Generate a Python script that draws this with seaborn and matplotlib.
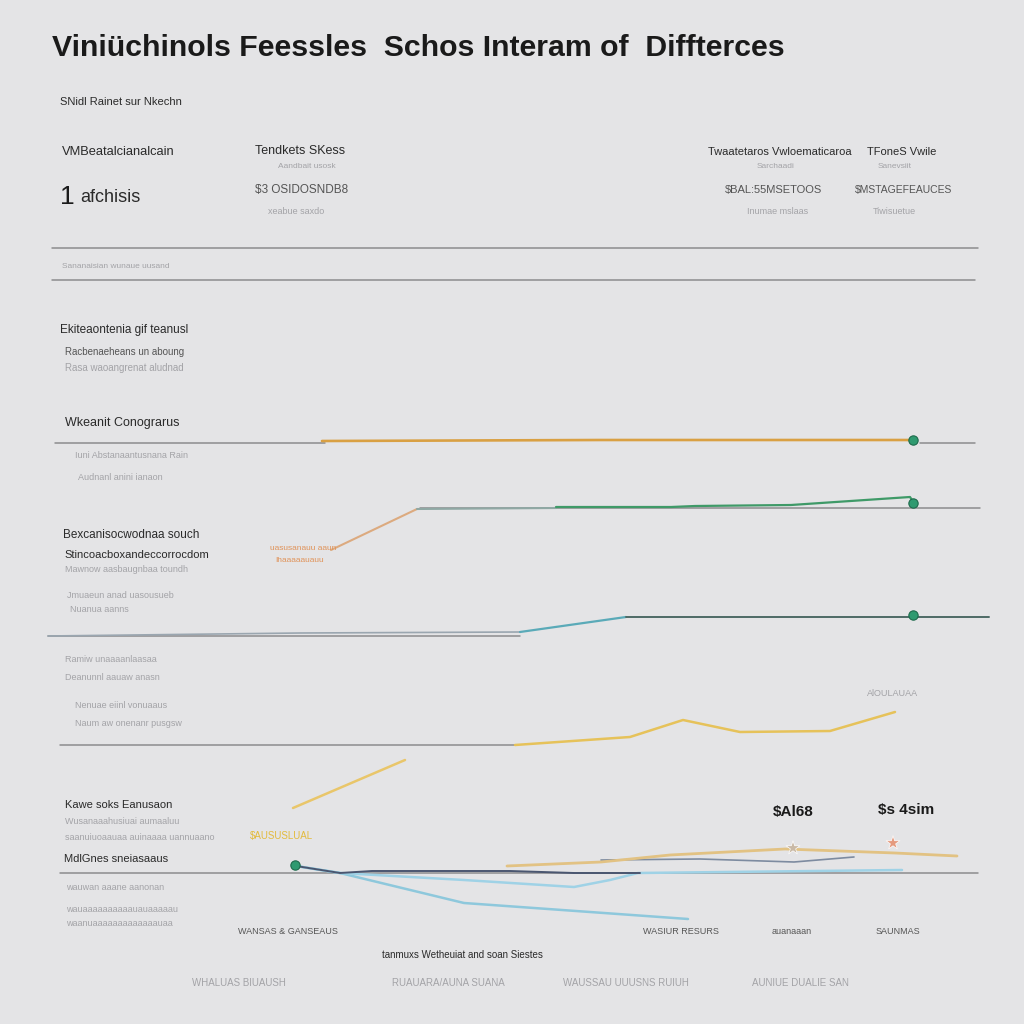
import matplotlib
matplotlib.use("Agg")
import matplotlib.pyplot as plt
import seaborn as sns
import pandas as pd

sns.set_theme(style="white")
plt.rcParams['font.family'] = ['Liberation Sans', 'DejaVu Sans']

BG = "#e4e4e6"

# ---------------- data (in chart units) ----------------
title = "Viniüchinols Feessles  Schos Interam of  Diffterces"

# separator / baseline rules: (x0, x1, y)
rule_x0 = [52, 52, 55, 920, 420, 48, 60, 60]
rule_x1 = [978, 975, 325, 975, 980, 520, 515, 978]
rule_y = [248, 280, 443, 443, 508, 636, 745, 873]

# series lines
orange_x = [322, 600, 913]
orange_y = [441, 440, 440]

tan_x = [331, 417]
tan_y = [550, 509]

gteal_x = [417, 556]
gteal_y = [509, 508]

green_x = [556, 671, 695, 791, 910, 914]
green_y = [507, 507, 506, 505, 497, 503]

gray2_x = [48, 300, 520]
gray2_y = [636, 633, 632]

teal_x = [520, 626]
teal_y = [632, 617]

dkteal_x = [626, 800, 989]
dkteal_y = [617, 617, 617]

yellow_x = [515, 630, 683, 740, 830, 895]
yellow_y = [745, 737, 720, 732, 731, 712]

yseg_x = [293, 405]
yseg_y = [808, 760]

navy_x = [296, 340, 372, 510, 574, 640]
navy_y = [866, 873, 871, 871, 873, 873]

slate_x = [601, 700, 794, 854]
slate_y = [860, 859, 862, 857]

gold_x = [507, 601, 670, 785, 895, 957]
gold_y = [866, 862, 855, 849, 853, 856]

lblue1_x = [296, 340, 464, 574, 610, 638, 902]
lblue1_y = [866, 873, 880, 887, 880, 873, 870]

lblue2_x = [296, 340, 464, 688]
lblue2_y = [866, 873, 903, 919]

# end-point markers
dot_x = [913, 913, 913, 295]
dot_y = [440, 503, 615, 865]

icon_x = [793, 893]
icon_y = [848, 843]

# ---------------- figure ----------------
fig = plt.figure(figsize=(10.24, 10.24), dpi=100, facecolor=BG)
ax = fig.add_axes([0, 0, 1, 1], facecolor=BG)

for x0, x1, y in zip(rule_x0, rule_x1, rule_y):
    df = pd.DataFrame({"x": [x0, x1], "y": [y, y]})
    sns.lineplot(data=df, x="x", y="y", ax=ax, color="#8c8c8e", lw=1.1, sort=False)

def draw(xs, ys, color, lw=1.6):
    df = pd.DataFrame({"x": xs, "y": ys})
    sns.lineplot(data=df, x="x", y="y", ax=ax, color=color, lw=lw, sort=False)

draw(orange_x, orange_y, "#d9a043", 1.9)
draw(tan_x, tan_y, "#dcaa7f", 1.5)
draw(gteal_x, gteal_y, "#8fa8a4", 1.5)
draw(green_x, green_y, "#3f9a68", 1.6)
draw(gray2_x, gray2_y, "#9aa6b0", 1.2)
draw(teal_x, teal_y, "#5aaab8", 1.6)
draw(dkteal_x, dkteal_y, "#4d6a66", 1.4)
draw(yellow_x, yellow_y, "#e6c25a", 1.8)
draw(yseg_x, yseg_y, "#e9c66a", 1.8)
draw(lblue2_x, lblue2_y, "#8ec8dc", 1.8)
draw(lblue1_x, lblue1_y, "#9fd2e6", 1.8)
draw(navy_x, navy_y, "#4a5670", 1.4)
draw(slate_x, slate_y, "#7d8ba0", 1.2)
draw(gold_x, gold_y, "#e2c283", 2.0)

sns.scatterplot(x=dot_x, y=dot_y, ax=ax, color="#2f9a70", s=45,
                edgecolor="#1e6b4c", linewidth=0.8, zorder=5)
sns.scatterplot(x=icon_x, y=icon_y, ax=ax, color=["#c9b9a6", "#e59a7e"],
                marker="*", s=110, linewidth=0.5, zorder=5)

ax.set_xlim(0, 1024)
ax.set_ylim(1024, 0)
ax.axis("off")

# ---------------- texts ----------------
ax.text(52, 48, title, fontsize=21.8, fontweight="bold", color="#1a1a1a",
        va="center", ha="left")

DARK = "#2a2a2a"
MID = "#555555"
LIGHT = "#a3a3a7"

texts = [
    (60, 102, "SNidl Rainet sur Nkechn", 8, DARK, "normal"),
    (62, 152, "VMBeatalcianalcain", 9.3, DARK, "normal"),
    (255, 151, "Tendkets SKess", 9, DARK, "normal"),
    (278, 167, "Aandbait usosk", 6, LIGHT, "normal"),
    (255, 190, "$3 OSIDOSNDB8", 8.5, MID, "normal"),
    (268, 212, "xeabue saxdo", 6.5, LIGHT, "normal"),
    (80, 198, "afchisis", 13, DARK, "normal"),
    (708, 152, "Twaatetaros Vwloematicaroa", 8, DARK, "normal"),
    (757, 167, "Sarchaadi", 6, LIGHT, "normal"),
    (725, 190, "$BAL:55MSETOOS", 8, MID, "normal"),
    (747, 212, "Inumae mslaas", 6.5, LIGHT, "normal"),
    (867, 152, "TFoneS Vwile", 8, DARK, "normal"),
    (878, 167, "Sanevsiit", 6, LIGHT, "normal"),
    (855, 190, "$MSTAGEFEAUCES", 7.5, MID, "normal"),
    (873, 212, "Tiwisuetue", 6.5, LIGHT, "normal"),
    (62, 266, "Sananaisian wunaue uusand", 6, LIGHT, "normal"),
    (60, 330, "Ekiteaontenia gif teanusl", 8.5, DARK, "normal"),
    (65, 352, "Racbenaeheans un aboung", 7, MID, "normal"),
    (65, 368, "Rasa waoangrenat aludnad", 7, LIGHT, "normal"),
    (65, 423, "Wkeanit Conograrus", 9, DARK, "normal"),
    (75, 456, "Iuni Abstanaantusnana Rain", 6.5, LIGHT, "normal"),
    (78, 477, "Audnanl anini ianaon", 6.5, LIGHT, "normal"),
    (63, 535, "Bexcanisocwodnaa souch", 8.5, DARK, "normal"),
    (64, 555, "Stincoacboxandeccorrocdom", 8, DARK, "normal"),
    (65, 570, "Mawnow aasbaugnbaa toundh", 6.5, LIGHT, "normal"),
    (67, 595, "Jmuaeun anad uasousueb", 6.5, LIGHT, "normal"),
    (70, 609, "Nuanua aanns", 6.5, LIGHT, "normal"),
    (65, 659, "Ramiw unaaaanlaasaa", 6.5, LIGHT, "normal"),
    (65, 677, "Deanunnl aauaw anasn", 6.5, LIGHT, "normal"),
    (75, 706, "Nenuae eiinl vonuaaus", 6.5, LIGHT, "normal"),
    (75, 723, "Naum aw onenanr pusgsw", 6.5, LIGHT, "normal"),
    (65, 805, "Kawe soks Eanusaon", 8, DARK, "normal"),
    (65, 822, "Wusanaaahusiuai aumaaluu", 6.5, LIGHT, "normal"),
    (65, 838, "saanuiuoaauaa auinaaaa uannuaano", 6.5, LIGHT, "normal"),
    (64, 859, "MdlGnes sneiasaaus", 8, DARK, "normal"),
    (66, 887, "wauwan aaane aanonan", 6.5, LIGHT, "normal"),
    (66, 909, "wauaaaaaaaaaauauaaaaau", 6.5, LIGHT, "normal"),
    (66, 924, "waanuaaaaaaaaaaaaauaa", 6.5, LIGHT, "normal"),
    (238, 932, "WANSAS & GANSEAUS", 6.5, MID, "normal"),
    (643, 932, "WASIUR RESURS", 6.5, MID, "normal"),
    (772, 932, "auanaaan", 6.5, MID, "normal"),
    (876, 932, "SAUNMAS", 6.5, MID, "normal"),
    (382, 955, "tanmuxs Wetheuiat and soan Siestes", 7, DARK, "normal"),
    (192, 983, "WHALUAS BIUAUSH", 7, LIGHT, "normal"),
    (392, 983, "RUAUARA/AUNA SUANA", 7, LIGHT, "normal"),
    (563, 983, "WAUSSAU UUUSNS RUIUH", 7, LIGHT, "normal"),
    (752, 983, "AUNIUE DUALIE SAN", 7, LIGHT, "normal"),
    (773, 812, "$Al68", 11, "#1a1a1a", "bold"),
    (878, 810, "$s 4sim", 11, "#1a1a1a", "bold"),
    (867, 694, "AlOULAUAA", 6.5, LIGHT, "normal"),
    (270, 549, "uasusanauu aaun", 6, "#e0935a", "normal"),
    (275, 560, "Ihaaaaauauu", 6, "#e0935a", "normal"),
    (250, 836, "$AUSUSLUAL", 7, "#e3bb3c", "normal"),
]
for x, y, s, fs, c, w in texts:
    ax.text(x, y, s, fontsize=fs, color=c, fontweight=w, va="center", ha="left")

ax.text(60, 197, "1", fontsize=19, color="#1a1a1a", va="center", ha="left")

fig.savefig("out.png", dpi=100, facecolor=BG)
